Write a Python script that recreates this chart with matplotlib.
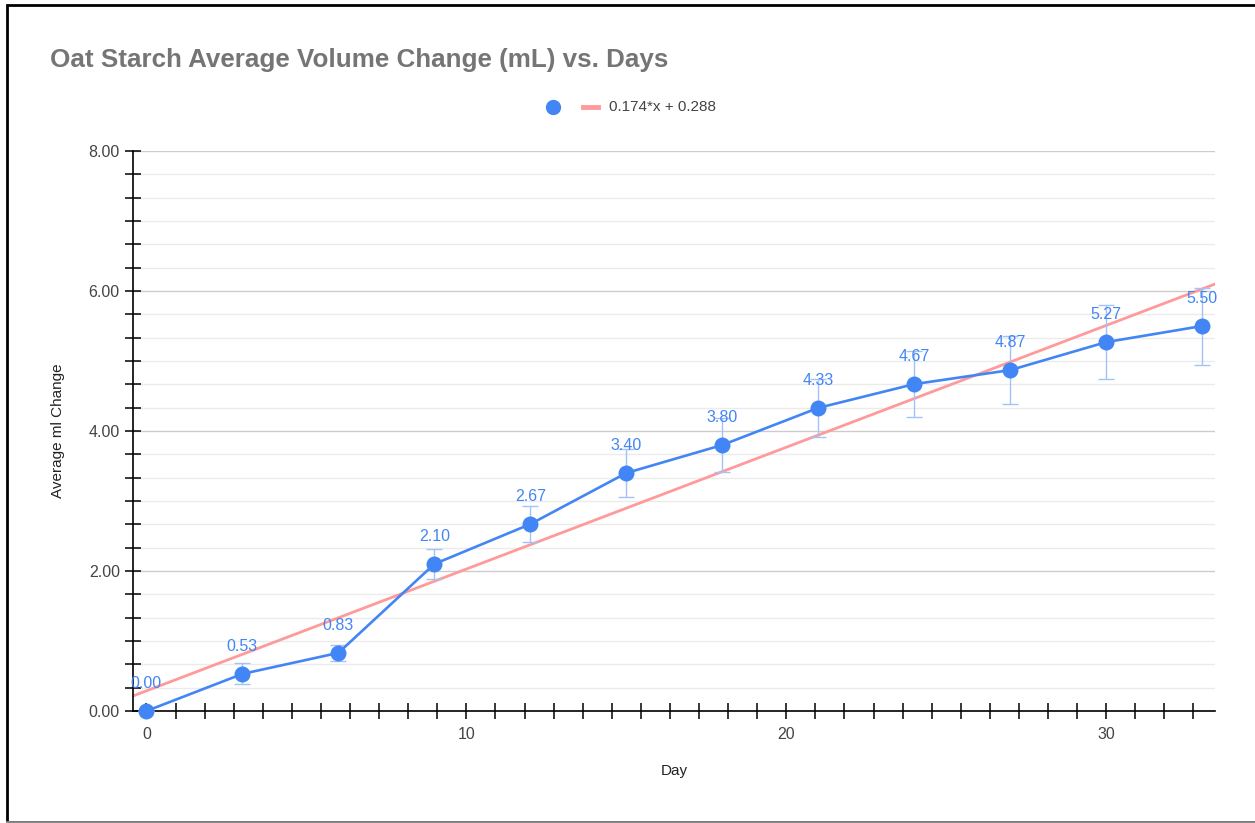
import numpy as np
import matplotlib
matplotlib.use('Agg')
import matplotlib.pyplot as plt
import matplotlib.ticker as ticker
from matplotlib.lines import Line2D
from matplotlib.patches import Rectangle

plt.rcParams['font.family'] = ['Liberation Sans', 'DejaVu Sans']

# data
days = [0, 3, 6, 9, 12, 15, 18, 21, 24, 27, 30, 33]
avg_change = [0.00, 0.53, 0.83, 2.10, 2.67, 3.40, 3.80, 4.33, 4.67, 4.87, 5.27, 5.50]
err = [0.0, 0.15, 0.12, 0.21, 0.26, 0.34, 0.38, 0.41, 0.47, 0.49, 0.53, 0.55]
trend_slope = 0.174
trend_icpt = 0.288
trend_label = "0.174*x + 0.288"

BLUE = '#4285F4'
TREND = '#FF9A9A'
ERR_COLOR = '#A3C2F9'
GRID_MAJOR = '#CCCCCC'
GRID_MINOR = '#EBEBEB'
TEXT = '#444444'

W, H = 1255, 823
fig = plt.figure(figsize=(W / 100, H / 100), dpi=100)
ax = fig.add_axes([133 / W, 1 - 711 / H, (1215 - 133) / W, (711 - 151) / H])

XMIN, XMAX = -0.42, 33.4

# trend line
tx = np.array([XMIN, XMAX])
ax.plot(tx, trend_slope * tx + trend_icpt, color=TREND, lw=2.0, zorder=2, clip_on=True)

# error bars
ax.errorbar(days, avg_change, yerr=err, fmt='none', ecolor=ERR_COLOR,
            elinewidth=1.0, capsize=6, capthick=1.0, zorder=3)

# series
ax.plot(days, avg_change, color=BLUE, lw=1.9, marker='o', markersize=11.5,
        markeredgewidth=0, zorder=4, clip_on=False)

for x, y in zip(days, avg_change):
    ax.annotate(f"{y:.2f}", (x, y), xytext=(0, 20), textcoords='offset points',
                ha='center', va='center', fontsize=11.5, color=BLUE, zorder=5)

ax.set_xlim(XMIN, XMAX)
ax.set_ylim(0, 8)

# y axis
ax.yaxis.set_major_locator(ticker.MultipleLocator(2))
ax.yaxis.set_minor_locator(ticker.FixedLocator(np.arange(0, 8.01, 1 / 3)))
ax.yaxis.set_major_formatter(ticker.FormatStrFormatter('%.2f'))
ax.grid(True, axis='y', which='major', color=GRID_MAJOR, lw=1.0, zorder=0)
ax.grid(True, axis='y', which='minor', color=GRID_MINOR, lw=1.0, zorder=0)
ax.set_axisbelow(True)

# x axis
ax.xaxis.set_major_locator(ticker.FixedLocator([0, 10, 20, 30]))
ax.xaxis.set_minor_locator(ticker.FixedLocator(np.arange(0, 33.5, 10 / 11)))
ax.xaxis.set_major_formatter(ticker.FormatStrFormatter('%d'))

ax.tick_params(axis='both', which='both', direction='inout', length=11, width=1.1,
               color='black', labelsize=11.5, labelcolor=TEXT)
ax.tick_params(axis='x', which='major', pad=6)
ax.tick_params(axis='y', which='major', pad=4)

for s in ['top', 'right']:
    ax.spines[s].set_visible(False)
for s in ['left', 'bottom']:
    ax.spines[s].set_color('black')
    ax.spines[s].set_linewidth(1.2)

ax.set_xlabel("Day", fontsize=11, color='#222222', labelpad=16)
ax.set_ylabel("Average ml Change", fontsize=11, color='#222222', labelpad=17)

fig.text(50 / W, 1 - 60 / H, "Oat Starch Average Volume Change (mL) vs. Days",
         ha='left', va='center', fontsize=18.7, fontweight='bold', color='#757575')

# legend
ly = 1 - 107 / H
fig.add_artist(Line2D([553 / W], [ly], marker='o', markersize=11, color=BLUE,
                      markeredgewidth=0, transform=fig.transFigure))
fig.add_artist(Line2D([583 / W, 598 / W], [ly, ly], color=TREND, lw=3.5,
                      transform=fig.transFigure))
fig.text(609 / W, ly, trend_label, ha='left', va='center', fontsize=11, color=TEXT)

# outer frame
fig.add_artist(Rectangle((7 / W, 1.5 / H), 1.2, 1 - 6.5 / H, transform=fig.transFigure,
                         fill=False, edgecolor='black', lw=2))
fig.add_artist(Line2D([7 / W, 1], [1.5 / H, 1.5 / H], color='#888888', lw=2,
                      transform=fig.transFigure))

fig.savefig('out.png', dpi=100)
